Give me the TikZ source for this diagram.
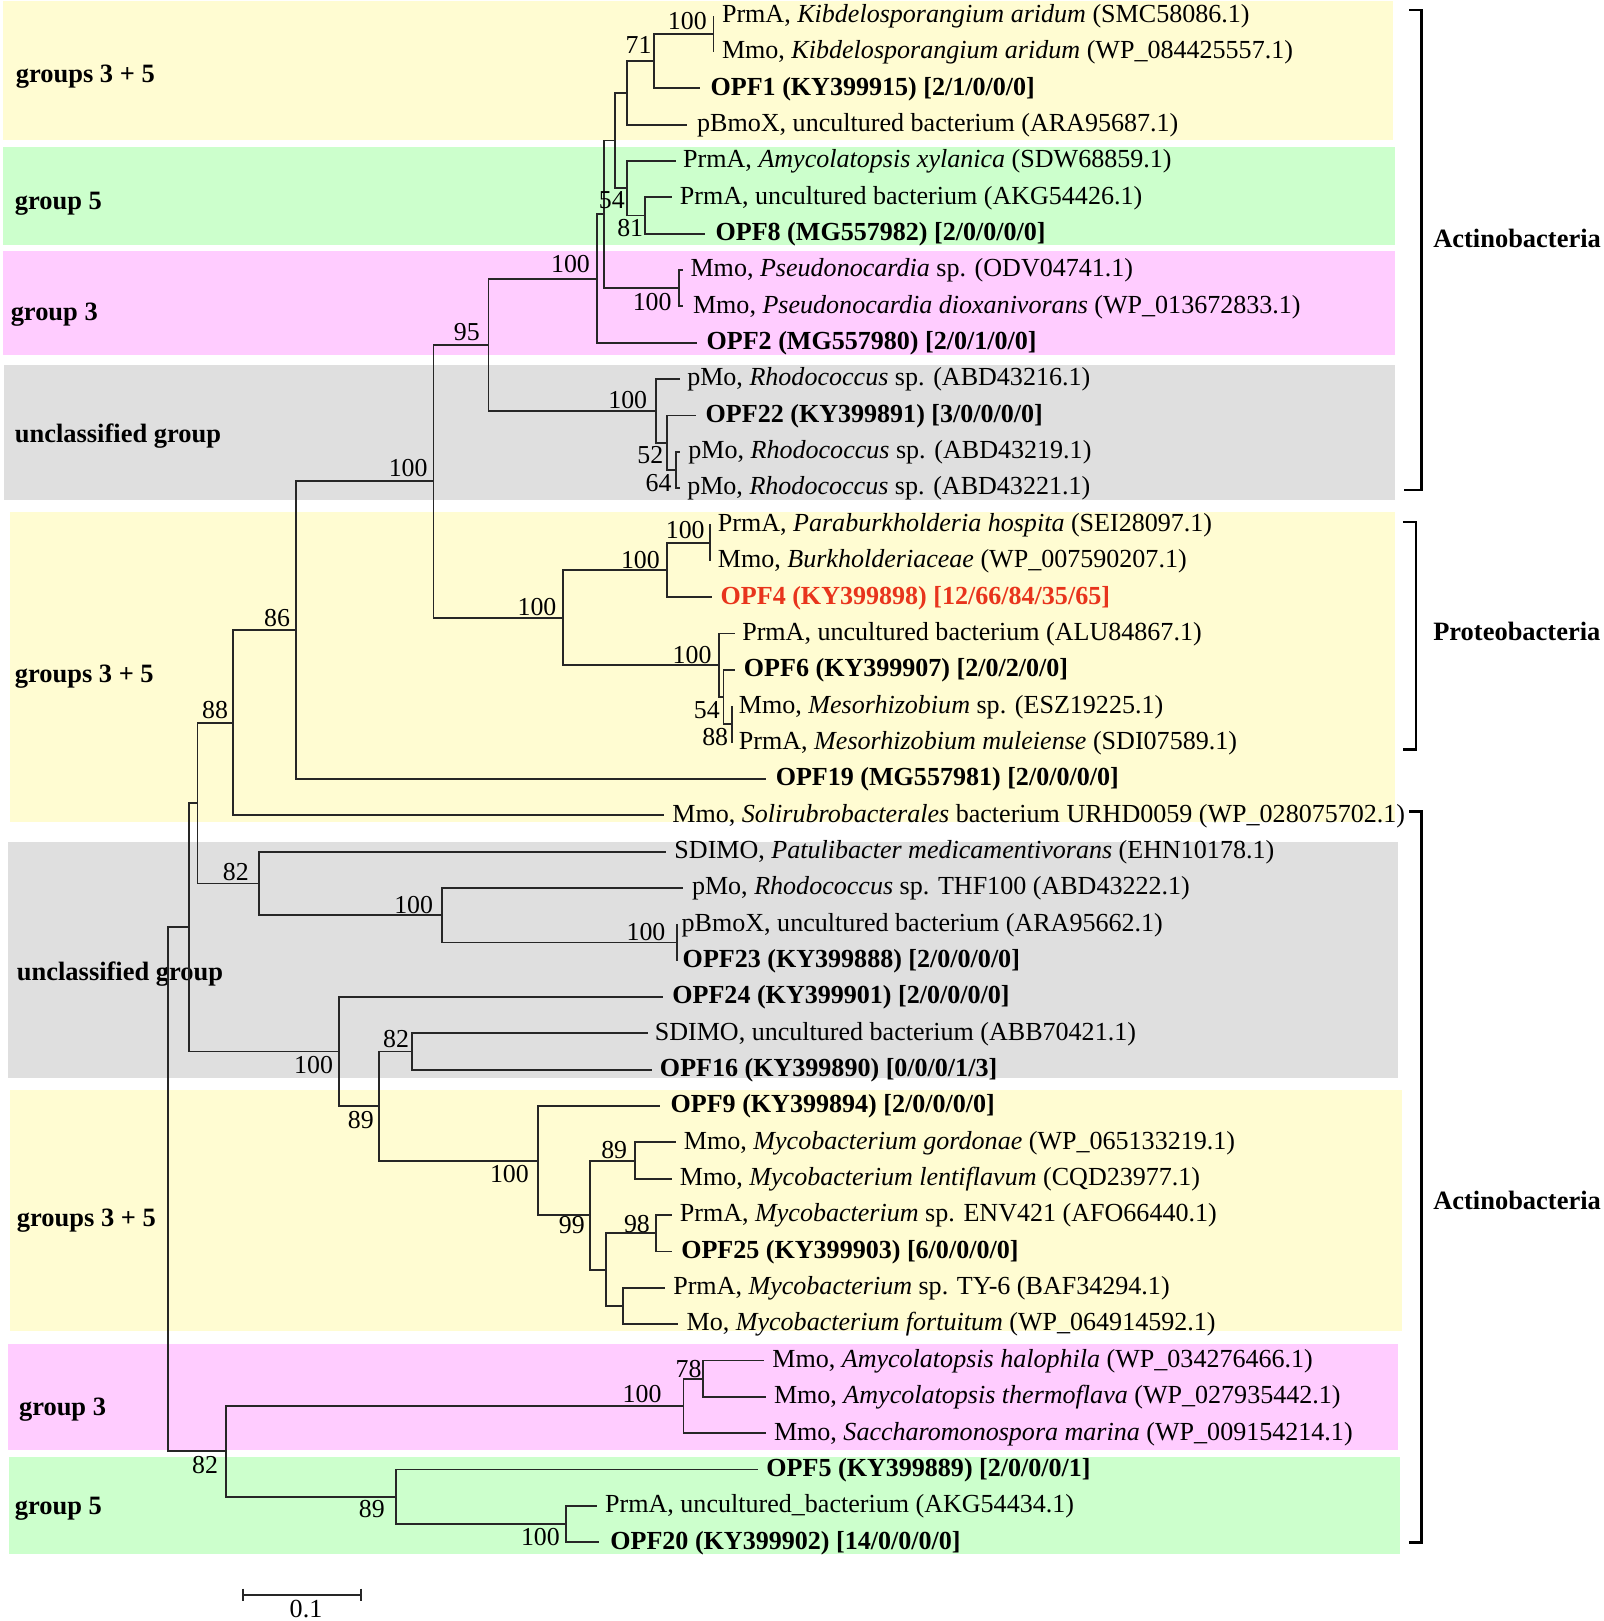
\documentclass[tikz,border=0pt]{standalone}
\usepackage{fontspec}
\setmainfont{Liberation Serif}
\usepackage{tikz}
\usetikzlibrary{positioning,calc}
\definecolor{bandyellow}{HTML}{FFFCD2}
\definecolor{bandgreen}{HTML}{CCFFCC}
\definecolor{bandpink}{HTML}{FFCCFF}
\definecolor{bandgrey}{HTML}{DFDFDF}
\definecolor{treeline}{HTML}{262626}
\definecolor{opfred}{HTML}{E8341C}

\begin{document}
\begin{tikzpicture}[x=0.5pt, y=-0.5pt,
    branch/.style={line width=0.9pt, color=treeline},
    leaf/.style={inner sep=0pt, font=\fontsize{12.6}{14}\selectfont, anchor=base west},
    boot/.style={inner sep=0pt, font=\fontsize{12.5}{14}\selectfont, anchor=base east},
    grp/.style={inner sep=0pt, font=\fontsize{12.8}{14}\selectfont\bfseries, anchor=base west},
    clade/.style={line width=1.1pt, color=black}]

    \useasboundingbox (0,0) rectangle (1551,1568);

    % Group bands
    \fill[bandyellow] (3,1) rectangle (1347,135.5);
    \fill[bandgreen] (3,142) rectangle (1349,237);
    \fill[bandpink] (3,242.5) rectangle (1349,343.5);
    \fill[bandgrey] (4,353) rectangle (1349,484);
    \fill[bandyellow] (10,495) rectangle (1349,795);
    \fill[bandgrey] (8,814) rectangle (1352,1042.5);
    \fill[bandyellow] (10,1054.5) rectangle (1356,1287.5);
    \fill[bandpink] (8,1300.5) rectangle (1352,1402.5);
    \fill[bandgreen] (9,1409) rectangle (1354,1503.5);

    % Group names
    \node[grp] (g1) at (15,80) {groups 3 + 5};
    \node[grp] (g2) at (14,203) {group 5};
    \node[grp] (g3) at (10,310) {group 3};
    \node[grp] (g4) at (14,428) {unclassified group};
    \node[grp] (g5) at (14,660) {groups 3 + 5};
    \node[grp] (g6) at (16,948) {unclassified group};
    \node[grp] (g7) at (16,1186) {groups 3 + 5};
    \node[grp] (g8) at (18,1369) {group 3};
    \node[grp] (g9) at (14,1465) {group 5};

    % Leaves (tip coordinate and label)
    \foreach \n/\tip/\tx/\lbl [evaluate=\n as \ry using 15.1+35.16*(\n-1)] in {
        1/690.2/698/{PrmA, \textit{Kibdelosporangium aridum} (SMC58086.1)},
        2/690.2/698/{Mmo, \textit{Kibdelosporangium aridum} (WP\_084425557.1)},
        3/677.3/687/{\textbf{OPF1 (KY399915) [2/1/0/0/0]}},
        4/664.4/674/{pBmoX, uncultured bacterium (ARA95687.1)},
        5/654/660.5/{PrmA, \textit{Amycolatopsis xylanica} (SDW68859.1)},
        6/649.9/657.3/{PrmA, uncultured bacterium (AKG54426.1)},
        7/682.1/691.8/{\textbf{OPF8 (MG557982) [2/0/0/0/0]}},
        8/660.5/667.6/{Mmo, \textit{Pseudonocardia} sp. (ODV04741.1)},
        9/660.5/670/{Mmo, \textit{Pseudonocardia dioxanivorans} (WP\_013672833.1)},
        10/674.1/683.1/{\textbf{OPF2 (MG557980) [2/0/1/0/0]}},
        11/657.3/664.4/{pMo, \textit{Rhodococcus} sp. (ABD43216.1)},
        12/673.4/682.2/{\textbf{OPF22 (KY399891) [3/0/0/0/0]}},
        13/658/665.5/{pMo, \textit{Rhodococcus} sp. (ABD43219.1)},
        14/658/664.4/{pMo, \textit{Rhodococcus} sp. (ABD43221.1)},
        15/687/694/{PrmA, \textit{Paraburkholderia hospita} (SEI28097.1)},
        16/687/694/{Mmo, \textit{Burkholderiaceae} (WP\_007590207.1)},
        17/688.6/696.7/{\textcolor{opfred}{\textbf{OPF4 (KY399898) [12/66/84/35/65]}}},
        18/711.2/717.6/{PrmA, uncultured bacterium (ALU84867.1)},
        19/711.2/719.2/{\textbf{OPF6 (KY399907) [2/0/2/0/0]}},
        20/708/714.4/{Mmo, \textit{Mesorhizobium} sp. (ESZ19225.1)},
        21/708/714.4/{PrmA, \textit{Mesorhizobium muleiense} (SDI07589.1)},
        22/741/750/{\textbf{OPF19 (MG557981) [2/0/0/0/0]}},
        23/642/650/{Mmo, \textit{Solirubrobacterales} bacterium URHD0059 (WP\_028075702.1)},
        24/644/652/{SDIMO, \textit{Patulibacter medicamentivorans} (EHN10178.1)},
        25/661/669/{pMo, \textit{Rhodococcus} sp. THF100 (ABD43222.1)},
        26/655/659/{pBmoX, uncultured bacterium (ARA95662.1)},
        27/655/660/{\textbf{OPF23 (KY399888) [2/0/0/0/0]}},
        28/641/650/{\textbf{OPF24 (KY399901) [2/0/0/0/0]}},
        29/627/633/{SDIMO, uncultured bacterium (ABB70421.1)},
        30/630.6/638/{\textbf{OPF16 (KY399890) [0/0/0/1/3]}},
        31/638.6/648.3/{\textbf{OPF9 (KY399894) [2/0/0/0/0]}},
        32/653.8/661.2/{Mmo, \textit{Mycobacterium gordonae} (WP\_065133219.1)},
        33/649.9/657.3/{Mmo, \textit{Mycobacterium lentiflavum} (CQD23977.1)},
        34/649.9/657.3/{PrmA, \textit{Mycobacterium} sp. ENV421 (AFO66440.1)},
        35/649.9/658.6/{\textbf{OPF25 (KY399903) [6/0/0/0/0]}},
        36/643.4/650.9/{PrmA, \textit{Mycobacterium} sp. TY-6 (BAF34294.1)},
        37/656.3/663.8/{Mo, \textit{Mycobacterium fortuitum} (WP\_064914592.1)},
        38/738.6/746.7/{Mmo, \textit{Amycolatopsis halophila} (WP\_034276466.1)},
        39/740.9/748.3/{Mmo, \textit{Amycolatopsis thermoflava} (WP\_027935442.1)},
        40/740.9/748.3/{Mmo, \textit{Saccharomonospora marina} (WP\_009154214.1)},
        41/733/741/{\textbf{OPF5 (KY399889) [2/0/0/0/1]}},
        42/577/585/{PrmA, uncultured\_bacterium (AKG54434.1)},
        43/579/590/{\textbf{OPF20 (KY399902) [14/0/0/0/0]}}} {
        \coordinate (t\n) at (\tip,\ry);
        \node[leaf] (leaf\n) at (\tx,\ry+6.6) {\lbl};
    }

    % Internal nodes
    \coordinate (A1) at (690.2,32.68);
    \coordinate (A2) at (632.8,59.05);
    \coordinate (A3) at (606.4,89.82);
    \coordinate (A6) at (624.1,208.48);
    \coordinate (A5) at (606.4,182.11);
    \coordinate (A4) at (595.1,135.97);
    \coordinate (A8) at (656.4,278.80);
    \coordinate (A7) at (584.4,207.39);
    \coordinate (A9) at (577.3,269.47);
    \coordinate (A13) at (654,454.60);
    \coordinate (A12) at (645,428.23);
    \coordinate (A11) at (634.7,397.47);
    \coordinate (A10) at (472.5,333.47);
    \coordinate (A18) at (687,524.92);
    \coordinate (A17) at (645,551.29);
    \coordinate (A21) at (708,700.72);
    \coordinate (A20) at (699.9,674.35);
    \coordinate (A19) at (695.7,643.59);
    \coordinate (A16) at (545,597.44);
    \coordinate (A14) at (419.3,465.46);
    \coordinate (A15) at (286.4,609.46);
    \coordinate (B1) at (225.1,699.04);
    \coordinate (B6) at (655,911.68);
    \coordinate (B5) at (427.4,885.31);
    \coordinate (B3) at (250.6,854.55);
    \coordinate (B2) at (191,776.80);
    \coordinate (B9) at (398.3,1017.16);
    \coordinate (B12) at (614.4,1122.64);
    \coordinate (B14) at (634.7,1192.96);
    \coordinate (B15) at (602.5,1263.28);
    \coordinate (B13) at (586.4,1228.12);
    \coordinate (B11) at (570.9,1175.38);
    \coordinate (B10) at (520.2,1122.64);
    \coordinate (B8) at (366.4,1069.90);
    \coordinate (B7) at (328.3,1017.16);
    \coordinate (B4) at (183.2,896.98);
    \coordinate (C3) at (679.6,1333.60);
    \coordinate (C2) at (661.2,1359.97);
    \coordinate (C6) at (547.3,1474.24);
    \coordinate (C5) at (382.8,1447.87);
    \coordinate (C1) at (218.4,1403.92);
    \coordinate (root) at (162.9,1150.45);

    % Branches
    \foreach \p/\c in {A1/t1, A1/t2, A2/A1, A2/t3, A3/A2, A3/t4,
        A6/t6, A6/t7, A5/t5, A5/A6, A4/A3, A4/A5, A8/t8, A8/t9,
        A7/A4, A7/A8, A9/A7, A9/t10, A13/t13, A13/t14, A12/t12, A12/A13,
        A11/t11, A11/A12, A10/A9, A10/A11, A18/t15, A18/t16, A17/A18, A17/t17,
        A21/t20, A21/t21, A20/t19, A20/A21, A19/t18, A19/A20, A16/A17, A16/A19,
        A14/A10, A14/A16, A15/A14, A15/t22, B1/A15, B1/t23,
        B6/t26, B6/t27, B5/t25, B5/B6, B3/t24, B3/B5, B2/B1, B2/B3,
        B9/t29, B9/t30, B12/t32, B12/t33, B14/t34, B14/t35, B15/t36, B15/t37,
        B13/B14, B13/B15, B11/B12, B11/B13, B10/t31, B10/B11, B8/B9, B8/B10,
        B7/t28, B7/B8, B4/B2, B4/B7, C3/t38, C3/t39, C2/C3, C2/t40,
        C6/t42, C6/t43, C5/t41, C5/C6, C1/C2, C1/C5, root/B4, root/C1} {
        \draw[branch] (\p) |- (\c);
    }

    % Bootstrap values
    \foreach \nd/\v/\bx/\by in {A1/100/684/29, A2/71/630.6/51.5, A5/54/604.8/201.5,
        A6/81/622.5/229, A8/100/650/300, A9/100/571/264, A10/95/464.4/329,
        A11/100/626.4/395, A12/52/642/448.3, A13/64/650/475.8, A14/100/414/461,
        A18/100/682/521, A17/100/638.6/550, A16/100/538.6/595, A19/100/688.6/641.8,
        A20/54/696.7/695, A21/88/704.7/720.9, A15/86/281/606, B1/88/221/695,
        B3/82/241/852, B5/100/419.3/883.7, B6/100/644/909.5, B7/100/322.5/1038.5,
        B9/82/396/1012.8, B8/89/361.9/1091.7, B10/100/511.9/1143.4,
        B12/89/607/1120.8, B11/99/566/1193.4, B14/98/629/1191.8,
        C3/78/678.9/1332, C2/100/640.2/1356.3, C1/82/211.3/1425,
        C5/89/372.5/1468.1, C6/100/541.9/1495} {
        \node[boot] (bs\nd) at (\bx,\by) {\v};
    }

    % Taxonomic brackets
    \draw[clade] (1363,10) -- (1375,10) -- (1375,474) -- (1358,474);
    \node[grp] (actino1) at (1386,239) {Actinobacteria};
    \draw[clade] (1357,505) -- (1370,505) -- (1370,725) -- (1357,725);
    \node[grp] (proteo) at (1386,620) {Proteobacteria};
    \draw[clade] (1363,785) -- (1375,785) -- (1375,1492) -- (1363,1492);
    \node[grp] (actino2) at (1386,1170) {Actinobacteria};

    % Scale bar
    \coordinate (sbl) at (235.4,1542.6);
    \coordinate (sbr) at (349.3,1542.6);
    \draw[branch] (sbl) -- (sbr);
    \draw[branch] ($(sbl)+(0,-6)$) -- ($(sbl)+(0,6)$);
    \draw[branch] ($(sbr)+(0,-6)$) -- ($(sbr)+(0,6)$);
    \node[leaf, anchor=base] (sbtext) at (296,1565) {0.1};
\end{tikzpicture}
\end{document}
